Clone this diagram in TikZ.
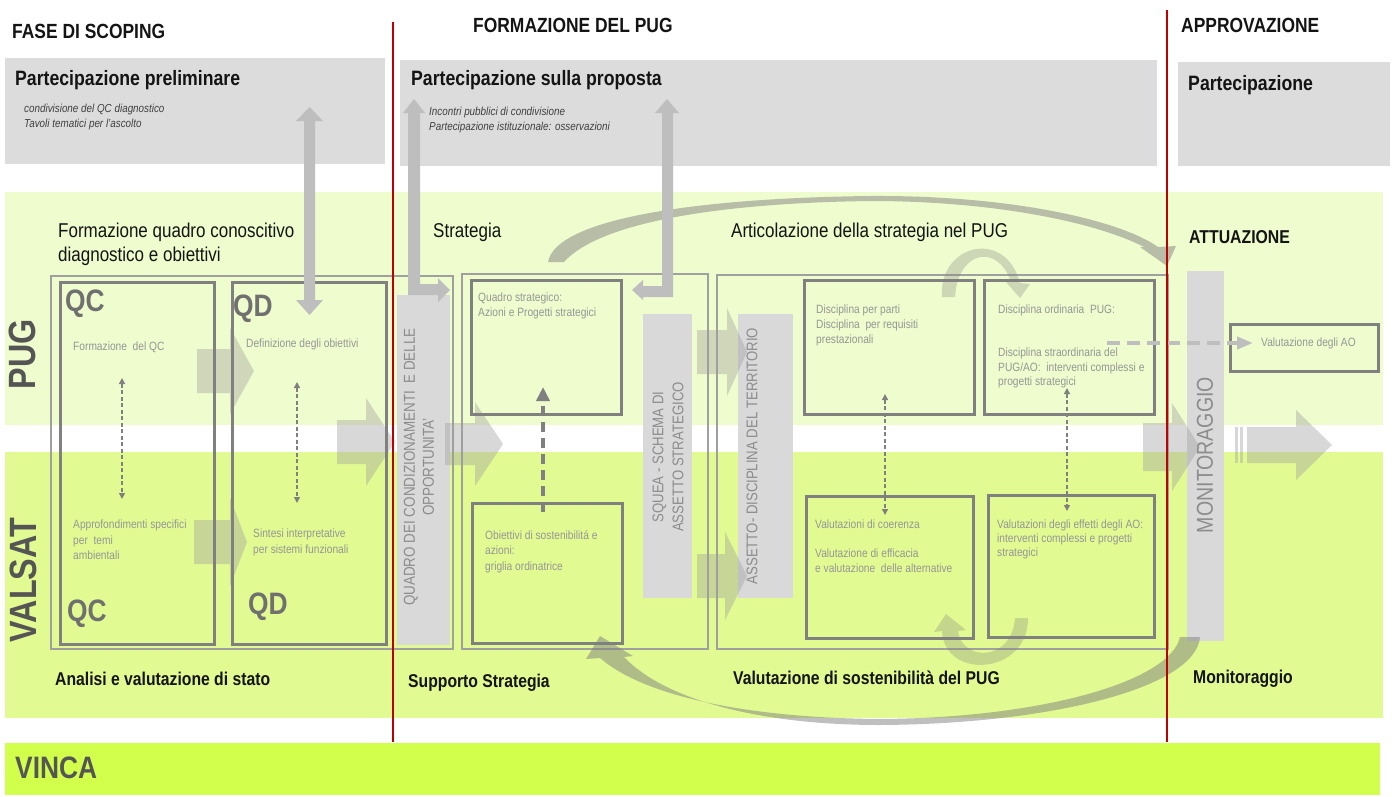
\documentclass[tikz,border=0pt]{standalone}
\usepackage{fontspec}
\setmainfont{Liberation Sans}[FakeStretch=0.85]
\usetikzlibrary{arrows.meta}
\definecolor{pugband}{RGB}{239,252,205}
\definecolor{valband}{RGB}{226,250,146}
\definecolor{vincaband}{RGB}{210,255,75}
\definecolor{partbox}{RGB}{220,220,220}
\definecolor{barcol}{RGB}{217,217,217}
\definecolor{boxline}{RGB}{128,128,128}
\definecolor{thinline}{RGB}{160,160,160}
\definecolor{redline}{RGB}{192,0,0}
\definecolor{boxtext}{RGB}{150,150,150}
\definecolor{bartext}{RGB}{140,140,140}
\definecolor{bigqc}{RGB}{112,112,112}
\definecolor{sidelabel}{RGB}{85,85,85}
\definecolor{partarrow}{RGB}{190,190,190}
\newcommand\blockarr[6]{\fill[blockfill] (#1,#4-#5) -- (#2,#4-#5) -- (#2,#4-#6) -- (#3,#4) -- (#2,#4+#6) -- (#2,#4+#5) -- (#1,#4+#5) -- cycle;}
\newcommand\fsz[2]{\fontsize{#1}{#2}\selectfont}
\begin{document}
\begin{tikzpicture}[x=1pt,y=-1pt,
  txt/.style={inner sep=0pt, anchor=north west, align=left},
  ttl/.style={txt, font=\bfseries\fsz{20.5}{24}, text=black!92},
  ptitle/.style={txt, font=\bfseries\fsz{20.8}{24}, text=black!92},
  note/.style={txt, font=\itshape\fsz{11.6}{14.5}, text=black!75},
  sect/.style={txt, font=\fsz{20}{24}, text=black!92},
  foot/.style={txt, font=\bfseries\fsz{18.5}{22}, text=black!92},
  boxtxt/.style={txt, font=\fsz{12}{15}, text=boxtext},
  bigq/.style={txt, font=\bfseries\fsz{31}{34}, text=bigqc},
  side/.style={inner sep=0pt, anchor=center, rotate=90, font=\bfseries\fsz{38}{40}, text=sidelabel},
  bartxt/.style={inner sep=0pt, anchor=center, rotate=90, align=center, text=bartext},
  partbx/.style={fill=partbox, draw=none, inner sep=0pt, anchor=north west},
  thinbox/.style={draw=thinline, line width=1.5pt, inner sep=0pt, anchor=north west},
  thickbox/.style={draw=boxline, line width=3pt, inner sep=0pt, anchor=north west},
  barbox/.style={fill=barcol, draw=none, inner sep=0pt, anchor=north west},
  blockfill/.style={fill=gray!75, fill opacity=0.4},
  arcfill/.style={fill=gray, fill opacity=0.5},
  arcfilltwo/.style={fill=gray, fill opacity=0.3},
  partfill/.style={fill=partarrow},
  dasharr/.style={draw=boxline, line width=1.4pt, dash pattern=on 4pt off 2.5pt, {Triangle[length=6pt,width=6pt]}-{Triangle[length=6pt,width=6pt]}},
  thickdash/.style={draw=boxline, line width=4pt, dash pattern=on 10pt off 6pt, -{Triangle[length=14pt,width=13pt]}},
  hdash/.style={draw=partarrow, line width=4pt, dash pattern=on 13pt off 7pt, -{Triangle[length=16pt,width=12pt]}},
  redl/.style={draw=redline, line width=2pt}
]
\useasboundingbox (0,0) rectangle (1395,796);
\fill[white] (0,0) rectangle (1395,796);
% bands
\fill[pugband] (5,192) rectangle (1383,425);
\fill[valband] (5,452) rectangle (1383,718);
\fill[vincaband] (5,743) rectangle (1380,795);
% titles
\node[ttl] (t1) at (12,24) {FASE DI SCOPING};
\node[ttl] (t2) at (473,18) {FORMAZIONE DEL PUG};
\node[ttl] (t3) at (1181,18) {APPROVAZIONE};
% participation boxes
\node[partbx, minimum width=380pt, minimum height=106pt] (p1) at (5,58) {};
\node[partbx, minimum width=757pt, minimum height=106pt] (p2) at (400,60) {};
\node[partbx, minimum width=212pt, minimum height=104pt] (p3) at (1178,62) {};
\node[ptitle] (p1t) at (15,70) {Partecipazione preliminare};
\node[note] (p1n) at (24,104) {condivisione del QC diagnostico\\Tavoli tematici per l’ascolto};
\node[ptitle] (p2t) at (411,70) {Partecipazione sulla proposta};
\node[note] (p2n) at (429,107) {Incontri pubblici di condivisione\\Partecipazione istituzionale: osservazioni};
\node[ptitle] (p3t) at (1188,75) {Partecipazione};
% outer thin boxes
\node[thinbox, minimum width=402pt, minimum height=373pt] (g1) at (50,275) {};
\node[thinbox, minimum width=246pt, minimum height=375pt] (g2) at (461,273) {};
\node[thinbox, minimum width=451pt, minimum height=374pt] (g3) at (716,274) {};
% bars
\node[barbox, minimum width=53pt, minimum height=350pt] (bq) at (397,295) {};
\node[barbox, minimum width=49pt, minimum height=284pt] (bs) at (643,314) {};
\node[barbox, minimum width=55pt, minimum height=284pt] (ba) at (738,314) {};
\node[barbox, minimum width=37pt, minimum height=370pt] (bm) at (1187,271) {};
\node[bartxt, font=\fsz{15.8}{19}] (bqt) at (419,467) {QUADRO DEI CONDIZIONAMENTI\ \ E DELLE\\OPPORTUNITA’};
\node[bartxt, font=\fsz{15.5}{20}] (bst) at (668,457) {SQUEA - SCHEMA DI\\ASSETTO STRATEGICO};
\node[bartxt, font=\fsz{15.5}{19}] (bat) at (752,456) {ASSETTO- DISCIPLINA DEL TERRITORIO};
\node[bartxt, font=\fsz{23}{26}] (bmt) at (1205,455) {MONITORAGGIO};
% block arrows
\blockarr{197}{230}{254}{371}{22}{43}
\blockarr{194}{230}{247}{542}{22}{44}
\blockarr{337}{366}{395}{442}{22}{44}
\blockarr{445}{475}{503}{444}{21}{42}
\blockarr{697}{727}{747}{352}{22}{44}
\blockarr{697}{725}{747}{576}{22}{44}
\blockarr{1143}{1172}{1200}{447}{24}{44}
\blockarr{1247}{1296}{1332}{445}{18}{35}
\fill[blockfill] (1235,427) rectangle (1238,463);
\fill[blockfill] (1240,427) rectangle (1243,463);
% thick boxes
\node[thickbox, minimum width=154pt, minimum height=362pt] (qc) at (59,281) {};
\node[thickbox, minimum width=154pt, minimum height=362pt] (qd) at (231,281) {};
\node[thickbox, minimum width=150pt, minimum height=134pt] (qs) at (470,279) {};
\node[thickbox, minimum width=150pt, minimum height=140pt] (ob) at (471,502) {};
\node[thickbox, minimum width=170pt, minimum height=134pt] (dp) at (803,279) {};
\node[thickbox, minimum width=170pt, minimum height=134pt] (do) at (983,279) {};
\node[thickbox, minimum width=167pt, minimum height=142pt] (vc) at (805,495) {};
\node[thickbox, minimum width=166pt, minimum height=142pt] (ve) at (987,494) {};
\node[thickbox, minimum width=148pt, minimum height=47pt] (vao) at (1229,323) {};
% section texts
\node[sect] (s1) at (58,223) {Formazione quadro conoscitivo\\diagnostico e obiettivi};
\node[sect] (s2) at (433,223) {Strategia};
\node[sect] (s3) at (731,223) {Articolazione della strategia nel PUG};
\node[txt, font=\bfseries\fsz{18.6}{22}, text=black!92] (s4) at (1189,230) {ATTUAZIONE};
% big labels
\node[bigq] (q1) at (65,290) {QC};
\node[bigq] (q2) at (233,295) {QD};
\node[bigq] (q3) at (67,600) {QC};
\node[bigq] (q4) at (248,593) {QD};
\node[side] (pug) at (22,354) {PUG};
\node[side] (valsat) at (23,580) {VALSAT};
\node[txt, font=\bfseries\fsz{31}{34}, text=sidelabel] (vinca) at (15,757) {VINCA};
% box texts
\node[boxtxt] (x1) at (73,342) {Formazione\ \ del QC};
\node[boxtxt] (x2) at (246,339) {Definizione degli obiettivi};
\node[boxtxt, font=\fsz{12}{15.5}] (x3) at (73,520) {Approfondimenti specifici\\per\ \ temi\\ambientali};
\node[boxtxt, font=\fsz{12}{16}] (x4) at (253,529) {Sintesi interpretative\\per sistemi funzionali};
\node[boxtxt] (x5) at (478,293) {Quadro strategico:\\Azioni e Progetti strategici};
\node[boxtxt, font=\fsz{12}{15.5}] (x6) at (485,530) {Obiettivi di sostenibilitá e\\azioni:\\griglia ordinatrice};
\node[boxtxt] (x7) at (816,305) {Disciplina per parti\\Disciplina\ \ per requisiti\\prestazionali};
\node[boxtxt] (x8) at (998,305) {Disciplina ordinaria\ \ PUG:};
\node[boxtxt, font=\fsz{12}{14.5}] (x9) at (998,348) {Disciplina straordinaria del\\PUG/AO:\ \ interventi complessi e\\progetti strategici};
\node[boxtxt] (x10) at (815,520) {Valutazioni di coerenza};
\node[boxtxt, font=\fsz{12}{14.5}] (x11) at (815,549) {Valutazione di efficacia\\e valutazione\ \ delle alternative};
\node[boxtxt, font=\fsz{12}{14}] (x12) at (997,520) {Valutazioni degli effetti degli AO:\\interventi complessi e progetti\\strategici};
\node[boxtxt] (x13) at (1261,338) {Valutazione degli AO};
% footer labels
\node[foot] (f1) at (55,672) {Analisi e valutazione di stato};
\node[foot] (f2) at (408,674) {Supporto Strategia};
\node[foot] (f3) at (733,671) {Valutazione di sostenibilità del PUG};
\node[foot] (f4) at (1193,670) {Monitoraggio};
% dashed connectors
\coordinate (qca) at (122,378); \coordinate (qcb) at (122,499);
\coordinate (qda) at (297,382); \coordinate (qdb) at (297,503);
\coordinate (dpa) at (885,394); \coordinate (dpb) at (885,515);
\coordinate (doa) at (1067,388); \coordinate (dob) at (1067,511);
\draw[dasharr] (qca) -- (qcb);
\draw[dasharr] (qda) -- (qdb);
\draw[dasharr] (dpa) -- (dpb);
\draw[dasharr] (doa) -- (dob);
\coordinate (oba) at (543,512); \coordinate (qsb) at (543,387);
\draw[thickdash] (oba) -- (qsb);
\coordinate (doc) at (1107,343); \coordinate (vaoa) at (1253,343);
\draw[hdash] (doc) -- (vaoa);
% curved arrows
\fill[arcfill] (548,262) .. controls (556,218) and (700,198) .. (870,196) .. controls (1010,195) and (1120,220) .. (1158,247) -- (1176,246) -- (1167,266) -- (1140,247) -- (1144,247) .. controls (1100,224) and (1000,201) .. (870,201) .. controls (720,203) and (600,222) .. (564,262) -- cycle;
\fill[arcfill] (1200,637) .. controls (1196,688) and (1050,724) .. (880,725) .. controls (760,725) and (665,700) .. (624,657) -- (633,656) -- (600,636) -- (586,659) -- (600,658) .. controls (645,697) and (750,718) .. (880,719) .. controls (1040,718) and (1170,682) .. (1180,637) -- cycle;
\fill[arcfilltwo] (942,297) .. controls (938,245) and (1005,227) .. (1020,283) -- (1030,284) -- (1020,298) -- (1006,282) -- (1011,282) .. controls (998,243) and (958,250) .. (955,297) -- cycle;
\fill[arcfilltwo] (1028,618) .. controls (1028,676) and (944,680) .. (942,631) -- (934,632) -- (946,614) -- (966,630) -- (958,631) .. controls (962,662) and (1012,662) .. (1015,618) -- cycle;
% participation arrows
\fill[partfill] (296,121) -- (309.5,107) -- (323,121) -- (315,121) -- (315,300) -- (323,300) -- (309.5,315) -- (296,300) -- (304,300) -- (304,121) -- cycle;
\fill[partfill] (403,113) -- (414,99) -- (425,113) -- (420,113) -- (420,284) -- (438,284) -- (438,278) -- (450,290) -- (438,302) -- (438,295) -- (408,295) -- (408,113) -- cycle;
\fill[partfill] (655,113) -- (667,99) -- (679,113) -- (673,113) -- (673,297) -- (643,297) -- (643,300) -- (632,290) -- (643,280) -- (643,286) -- (662,286) -- (662,113) -- cycle;
% red phase lines
\draw[redl] (393,22) -- (393,742);
\draw[redl] (1167,10) -- (1167,742);
\end{tikzpicture}
\end{document}
